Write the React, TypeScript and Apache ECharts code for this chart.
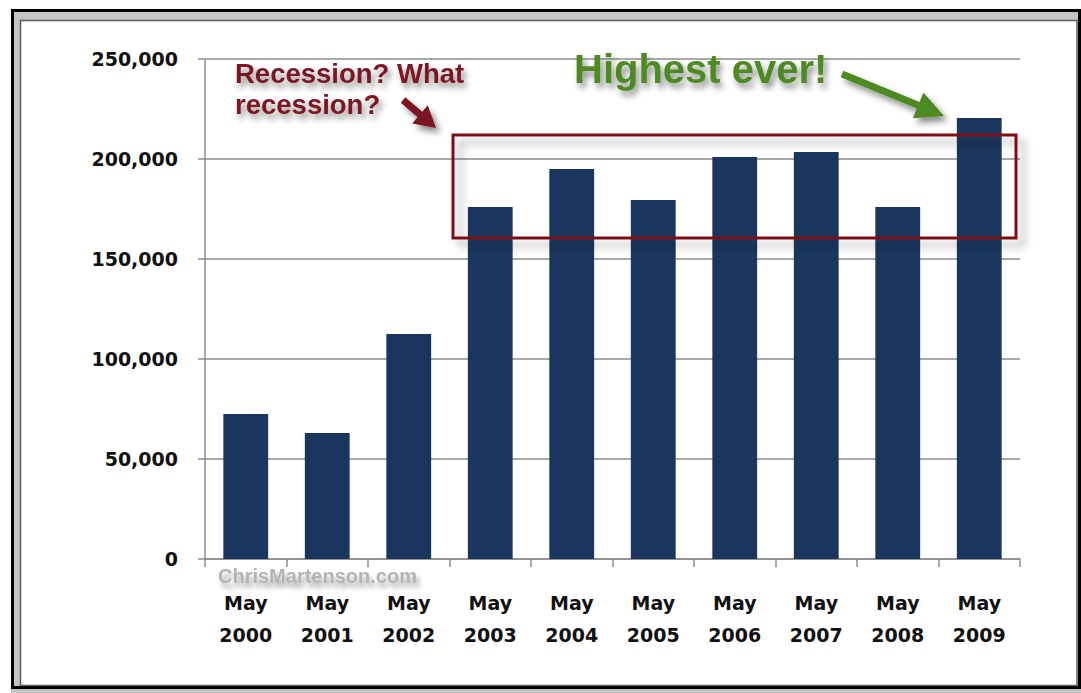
import React, { useEffect, useRef } from "react";
import * as echarts from "echarts";

const categories = ["May\n2000", "May\n2001", "May\n2002", "May\n2003", "May\n2004", "May\n2005", "May\n2006", "May\n2007", "May\n2008", "May\n2009"];
const values = [72500, 63000, 112500, 176000, 195000, 179500, 201000, 203500, 176000, 220500];
const yTicks = { min: 0, max: 250000, interval: 50000 };
const annotationRed = ["Recession? What", "recession?"];
const annotationGreen = "Highest ever!";
const watermark = "ChrisMartenson.com";

function arrow(x1: number, y1: number, x2: number, y2: number, headLen: number, headHalf: number, width: number, color: string) {
  const dx = x2 - x1, dy = y2 - y1;
  const len = Math.sqrt(dx * dx + dy * dy);
  const ux = dx / len, uy = dy / len;
  const px = -uy, py = ux;
  const bx = x2 - ux * headLen, by = y2 - uy * headLen;
  const shadow = { shadowBlur: 6, shadowColor: "rgba(0,0,0,0.45)", shadowOffsetX: 4, shadowOffsetY: 5 };
  return [
    {
      type: "line",
      z: 100,
      shape: { x1, y1, x2: bx + ux * 2, y2: by + uy * 2 },
      style: { stroke: color, lineWidth: width, lineCap: "butt", ...shadow },
    },
    {
      type: "polygon",
      z: 101,
      shape: { points: [[x2, y2], [bx + px * headHalf, by + py * headHalf], [bx - px * headHalf, by - py * headHalf]] },
      style: { fill: color, ...shadow },
    },
  ];
}

export default function App() {
  const ref = useRef<HTMLDivElement>(null);
  useEffect(() => {
    if (!ref.current) return;
    const chart = echarts.init(ref.current, null, { renderer: "svg" });
    const axisFont = { fontFamily: "DejaVu Sans", fontWeight: "bold" as const, fontSize: 19, color: "#111" };
    const annFont = "Liberation Sans";
    const textShadow = { textShadowBlur: 6, textShadowColor: "rgba(0,0,0,0.45)", textShadowOffsetX: 3, textShadowOffsetY: 5 };
    chart.setOption({
      animation: false,
      backgroundColor: "#ffffff",
      grid: { left: 205, right: 61, top: 59, bottom: 134, containLabel: false },
      xAxis: {
        type: "category",
        data: categories,
        axisLine: { show: true, lineStyle: { color: "#8c8c8c", width: 1.5 } },
        axisTick: { show: true, length: 8, lineStyle: { color: "#8c8c8c", width: 1.5 } },
        axisLabel: { ...axisFont, lineHeight: 32, margin: 28, interval: 0 },
        splitLine: { show: false },
      },
      yAxis: {
        type: "value",
        min: yTicks.min,
        max: yTicks.max,
        interval: yTicks.interval,
        axisLine: { show: true, lineStyle: { color: "#8c8c8c", width: 1.5 } },
        axisTick: { show: true, length: 7, lineStyle: { color: "#8c8c8c", width: 1.5 } },
        axisLabel: {
          ...axisFont,
          margin: 27,
          formatter: (v: number) => v.toLocaleString("en-US"),
        },
        splitLine: { show: true, lineStyle: { color: "#8c8c8c", width: 1.5 } },
      },
      series: [
        {
          type: "bar",
          data: values,
          barCategoryGap: "45%",
          itemStyle: { color: "#1b365e" },
          z: 2,
        },
      ],
      graphic: [
        // frame
        { type: "rect", z: 90, shape: { x: 11, y: 9, width: 1070, height: 3 }, style: { fill: "#000" } },
        { type: "rect", z: 90, shape: { x: 11, y: 9, width: 3, height: 680 }, style: { fill: "#000" } },
        { type: "rect", z: 90, shape: { x: 1078, y: 9, width: 3, height: 680 }, style: { fill: "#000" } },
        { type: "rect", z: 90, shape: { x: 11, y: 686, width: 1070, height: 3 }, style: { fill: "#000" } },
        { type: "rect", z: 90, shape: { x: 11, y: 689, width: 1070, height: 4 }, style: { fill: "#c4c4c4" } },
        { type: "rect", z: 90, shape: { x: 14, y: 12, width: 1064, height: 8 }, style: { fill: "#c4c4c4" } },
        { type: "rect", z: 90, shape: { x: 14, y: 12, width: 6, height: 674 }, style: { fill: "#c4c4c4" } },
        { type: "rect", z: 91, shape: { x: 20.5, y: 20.5, width: 1056.5, height: 665 }, style: { fill: "none", stroke: "#5a5a5a", lineWidth: 1.5 } },
        // red box
        {
          type: "rect",
          z: 100,
          shape: { x: 453, y: 135, width: 563, height: 103 },
          style: { fill: "none", stroke: "#7a0f18", lineWidth: 3, shadowBlur: 8, shadowColor: "rgba(0,0,0,0.35)", shadowOffsetX: 7, shadowOffsetY: 7 },
        },
        // texts
        {
          type: "text",
          z: 100,
          x: 235,
          y: 73,
          style: { text: annotationRed[0], font: `bold 27.5px "${annFont}"`, fill: "#7b1420", textAlign: "left", textVerticalAlign: "middle", ...textShadow },
        },
        {
          type: "text",
          z: 100,
          x: 235,
          y: 104,
          style: { text: annotationRed[1], font: `bold 27.5px "${annFont}"`, fill: "#7b1420", textAlign: "left", textVerticalAlign: "middle", ...textShadow },
        },
        {
          type: "text",
          z: 100,
          x: 574,
          y: 69,
          style: { text: annotationGreen, font: `bold 40px "${annFont}"`, fill: "#4e8a22", textAlign: "left", textVerticalAlign: "middle", ...textShadow },
        },
        {
          type: "text",
          z: 100,
          x: 218,
          y: 576,
          style: { text: watermark, font: `bold 20px "${annFont}"`, fill: "#b3b3b3", textAlign: "left", textVerticalAlign: "middle", textShadowBlur: 5, textShadowColor: "rgba(0,0,0,0.35)", textShadowOffsetX: 3, textShadowOffsetY: 5 },
        },
        ...arrow(842, 74, 944, 116, 28, 14, 7, "#4e8a22"),
        ...arrow(403, 100, 436, 128, 21, 12, 7, "#7b1420"),
      ],
    });
    return () => chart.dispose();
  }, []);
  return <div ref={ref} style={{ position: "fixed", left: 0, top: 0, width: 1081, height: 693 }} />;
}
